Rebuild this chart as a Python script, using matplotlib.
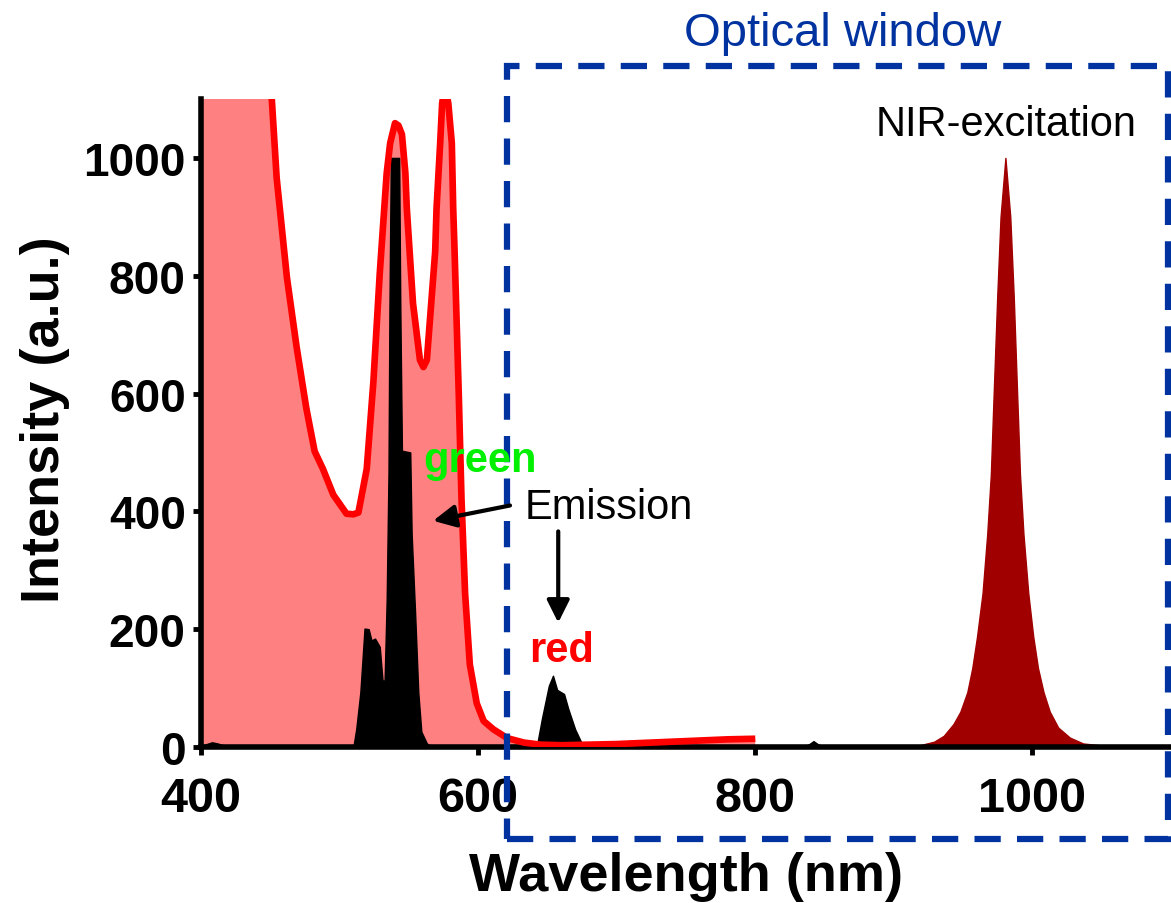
import numpy as np
import matplotlib
matplotlib.use("Agg")
import matplotlib.pyplot as plt
from matplotlib.patches import Rectangle

plt.rcParams["font.family"] = ["Liberation Sans", "DejaVu Sans"]

# ---------------------------------------------------------------------------
# Spectra
# ---------------------------------------------------------------------------
# absorption (red line + light red fill)
ABS_NM = [400, 420, 440, 451, 454.6, 462, 469, 476, 482, 488, 495.5, 505, 510,
          513.6, 519.6, 524.4, 529, 534, 536.5, 540, 542.5, 545, 547.5, 548.5,
          553, 558, 560.5, 563, 569, 570, 572.6, 574, 576, 578.5, 581, 582,
          583, 586, 588, 590.6, 594, 599, 604, 611, 621, 633, 645, 660, 680,
          700, 720, 740, 760, 780, 800]
ABS_VAL = [1900, 1600, 1300, 1103, 966, 797, 679, 575, 502, 472, 428, 396, 395,
           398, 472, 620, 804, 974, 1025, 1059, 1055, 1040, 974, 915,
           753, 657, 645, 657, 841, 915, 1025, 1092, 1125, 1092, 1025, 915,
           841, 600, 420, 260, 140, 74, 44, 30, 15, 7.5, 4, 3, 4,
           5, 7, 9, 11, 13, 14]

# upconversion emission (black fill)
EM_NM = [400, 404, 408, 412, 416, 420, 510, 512, 515, 518, 521, 523, 525.6,
         529, 531, 532.5, 534, 535.3, 536, 537, 543, 543.8, 545, 551, 552,
         554.5, 556.8, 559, 563, 566, 640, 643, 646, 651, 654, 657, 662, 665,
         670, 675, 680, 835, 839, 842, 845, 849, 1100]
EM_VAL = [2, 5, 8, 6, 3, 1, 1, 30, 93, 201, 200, 181, 184,
          170, 113, 113, 250, 463, 745, 1000, 1000, 752, 503, 500, 362,
          228, 93, 26, 6, 1, 1, 10, 48, 104, 121, 97, 90, 65,
          30, 5, 1, 1, 5, 10, 5, 1, 1]

# 980 nm laser (dark red fill)
NIR_NM = [902, 917, 929, 936, 943, 948, 953, 956.6, 960, 964, 967.4, 970, 972,
          974.6, 977, 980.5, 984, 986.5, 989, 991, 993.5, 997, 1000.6, 1004,
          1008, 1012.5, 1018.6, 1027, 1036.6, 1048.6, 1063, 1072]
NIR_VAL = [1, 2, 9, 19, 39, 60, 93, 134, 187, 261, 362, 463, 597,
           765, 900, 1000, 900, 765, 597, 463, 362, 261, 187, 134,
           93, 60, 33, 16, 6, 3, 1, 1]

X_TICKS = [400, 600, 800, 1000]
Y_TICKS = [0, 200, 400, 600, 800, 1000]

BLUE = "#0033a0"

# ---------------------------------------------------------------------------
fig = plt.figure(figsize=(11.71, 9.04), dpi=100)
ax = fig.add_axes([201 / 1171, 1 - 748 / 904, 970 / 1171, 648 / 904])

ax.fill_between(ABS_NM, ABS_VAL, color="#ff8080", lw=0, zorder=1)
ax.fill_between(EM_NM, EM_VAL, color="black", lw=1, edgecolor="black", zorder=2)
ax.fill_between(NIR_NM, NIR_VAL, color="#a00000", lw=1, edgecolor="#a00000", zorder=2)
ax.plot(ABS_NM, ABS_VAL, color="#ff0000", lw=4.8, zorder=3,
        solid_joinstyle="round", solid_capstyle="butt")

ax.set_xlim(400, 1100)
ax.set_ylim(0, 1100)
ax.set_xticks(X_TICKS)
ax.set_yticks(Y_TICKS)

for side in ["top", "right"]:
    ax.spines[side].set_visible(False)
for side in ["left", "bottom"]:
    ax.spines[side].set_linewidth(4)
    ax.spines[side].set_zorder(2.5)

ax.tick_params(axis="both", direction="out", length=6, width=3.5)
ax.tick_params(axis="x", pad=15, labelsize=35)
ax.tick_params(axis="y", pad=5, labelsize=33)
for lab in ax.get_xticklabels() + ax.get_yticklabels():
    lab.set_fontweight("bold")

ax.set_xlabel("Wavelength (nm)", fontsize=39, fontweight="bold")
ax.set_ylabel("Intensity (a.u.)", fontsize=39, fontweight="bold")
ax.xaxis.set_label_coords(0.5, -0.160)
ax.yaxis.set_label_coords(-0.135, 0.506)

# optical window box
ax.add_patch(Rectangle((621, -156), 1098 - 621, 1156 + 156, fill=False,
                       edgecolor=BLUE, lw=4.5, linestyle=(0, (4.2, 2.6)),
                       clip_on=False, zorder=4))
ax.text(862.8, 1191, "Optical window", color=BLUE, fontsize=34,
        ha="center", va="baseline", clip_on=False)

ax.text(981.2, 1039, "NIR-excitation", fontsize=30, ha="center", va="baseline")
ax.text(633.2, 389, "Emission", fontsize=30, ha="left", va="baseline")
ax.text(560.3, 468, "green", fontsize=30, fontweight="bold", color="#00f000",
        ha="left", va="baseline", zorder=5)
ax.text(636.8, 146, "red", fontsize=30, fontweight="bold", color="#ff0000",
        ha="left", va="baseline", zorder=5)

arrow = dict(arrowstyle="-|>", color="black", lw=3, mutation_scale=34,
             shrinkA=0, shrinkB=0)
ax.annotate("", xy=(567.5, 384), xytext=(623, 410), arrowprops=arrow,
            annotation_clip=False, zorder=5)
ax.annotate("", xy=(657.8, 211), xytext=(657.8, 366), arrowprops=arrow,
            annotation_clip=False, zorder=5)

fig.savefig("out.png", dpi=100)
